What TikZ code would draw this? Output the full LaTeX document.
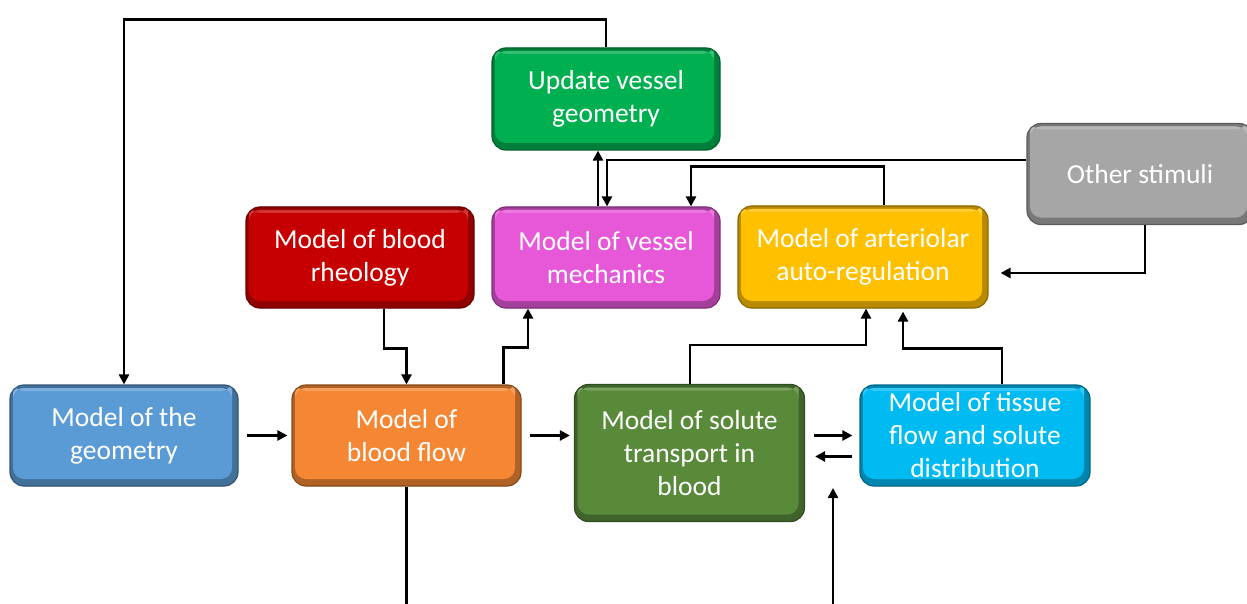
\documentclass[tikz,border=0pt]{standalone}
\usepackage{fontspec}
\setmainfont{Carlito}
\usetikzlibrary{arrows.meta,calc}
\definecolor{cUpd}{RGB}{0,176,80}
\definecolor{cOth}{RGB}{166,166,166}
\definecolor{cRheo}{RGB}{198,0,0}
\definecolor{cMech}{RGB}{230,88,216}
\definecolor{cArt}{RGB}{255,192,0}
\definecolor{cGeo}{RGB}{91,155,213}
\definecolor{cFlow}{RGB}{245,135,52}
\definecolor{cSol}{RGB}{88,138,58}
\definecolor{cTis}{RGB}{0,186,242}
\tikzset{
  box/.style={draw=#1!55!black, line width=1.2pt, rounded corners=14pt, fill=#1,
    text=white, align=center, font=\fontsize{27.5}{33}\selectfont, inner sep=0pt,
    path picture={
      \fill[#1!72!black] (path picture bounding box.south west) rectangle (path picture bounding box.north east);
      \fill[#1, rounded corners=11pt] ([shift={(3pt,7pt)}]path picture bounding box.south west) rectangle ([shift={(-6pt,-3pt)}]path picture bounding box.north east);
      \fill[#1!80!white, rounded corners=11pt] ([shift={(3pt,-3pt)}]path picture bounding box.north west) rectangle ([shift={(-6pt,-6pt)}]path picture bounding box.north east);
    }},
  arr/.style={line width=2.8pt, -{Triangle[length=10pt,width=10pt]}},
  ln/.style={line width=2.8pt}
}
\begin{document}
\begin{tikzpicture}[x=1pt,y=-1pt]
\clip (0,0) rectangle (1247,604);
\fill[white] (0,0) rectangle (1247,604);
% nodes
\node[box=cUpd, minimum width=228pt, minimum height=102pt] (upd) at (606,99) {Update vessel\\geometry};
\node[box=cOth, minimum width=226pt, minimum height=101pt] (oth) at (1140,174) {Other stimuli};
\node[box=cRheo, minimum width=228pt, minimum height=101pt] (rheo) at (360,257.5) {Model of blood\\rheology};
\node[box=cMech, minimum width=228pt, minimum height=101pt] (mech) at (606,257.5) {Model of vessel\\mechanics};
\node[box=cArt, minimum width=250pt, minimum height=102pt] (art) at (863,257) {Model of arteriolar\\auto-regulation};
\node[box=cGeo, minimum width=228pt, minimum height=101pt] (geo) at (124,435.5) {Model of the\\geometry};
\node[box=cFlow, minimum width=229pt, minimum height=101pt] (flow) at (406.5,435.5) {Model of\\blood flow};
\node[box=cSol, minimum width=230pt, minimum height=137pt] (sol) at (689.5,453) {Model of solute\\transport in\\blood};
\node[box=cTis, minimum width=230pt, minimum height=101pt] (tis) at (975,435.5) {Model of tissue\\flow and solute\\distribution};
% coordinates
\coordinate (o1) at ([yshift=14pt]oth.west);
\coordinate (artin) at ([xshift=12pt,yshift=-16pt]art.east);
\coordinate (s1) at ([yshift=-21pt]tis.west);
\coordinate (fb) at (406.5,610);
\coordinate (b1) at (833,610);
\coordinate (b2) at (833,488);
% connectors
\draw[arr] (upd.north) -- ++(0,-28) -| (geo.north);
\draw[arr] ([xshift=-8pt]mech.north) -- ([xshift=-8pt]upd.south);
\draw[arr] (o1) -| ([xshift=1pt]mech.north);
\draw[arr] ([xshift=21pt]art.north) -- ++(0,-39) -| ([xshift=85pt]mech.north);
\draw[arr] ([xshift=5pt]oth.south) |- (artin);
\draw[arr] ([xshift=24pt]rheo.south) -- ++(0,40) -| (flow.north);
\draw[arr] ([xshift=97pt]flow.north) -- ++(0,-37) -| ([xshift=-78pt]mech.south);
\draw[arr, shorten <=8pt, shorten >=4pt] (geo.east) -- (flow.west);
\draw[arr, shorten <=8pt, shorten >=4pt] (flow.east) -- (flow.east -| sol.west);
\draw[arr, shorten <=9pt, shorten >=7pt] (tis.west -| sol.east) -- (tis.west);
\draw[arr, shorten <=7pt, shorten >=10pt] (s1) -- (s1 -| sol.east);
\draw[arr] ([xshift=0.5pt]sol.north) -- ++(0,-39) -| ([xshift=3pt]art.south);
\draw[arr, shorten >=3pt] ([xshift=27pt]tis.north) -- ++(0,-36) -| ([xshift=40pt]art.south);
\draw[ln] (flow.south) -- (fb);
\draw[arr] (b1) -- (b2);
\end{tikzpicture}
\end{document}
